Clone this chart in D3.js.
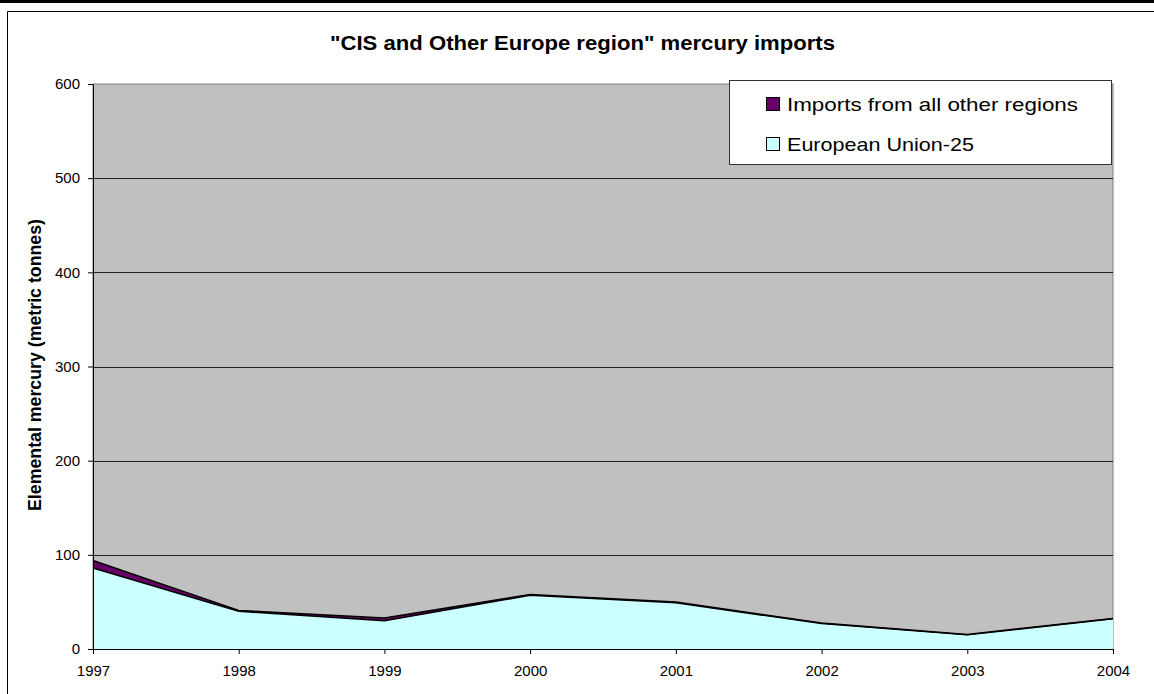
<!DOCTYPE html>
<html>
<head>
<meta charset="utf-8">
<script src="https://cdn.jsdelivr.net/npm/d3@7"></script>
<style>
  html, body { margin: 0; padding: 0; background: #fff; }
  svg { display: block; font-family: "Liberation Sans", Arial, sans-serif; }
</style>
</head>
<body>
<svg id="chart" width="1154" height="694"></svg>
<script>
const years = [1997, 1998, 1999, 2000, 2001, 2002, 2003, 2004];
const euValues = [86, 40, 30, 57, 49, 27, 15, 32];
const otherValues = [8, 1, 3, 1, 1, 0.5, 0.5, 0.5];
const yTicks = [0, 100, 200, 300, 400, 500, 600];
const seriesNames = ["Imports from all other regions", "European Union-25"];
const seriesColors = ["#660066", "#CCFFFF"];

const svg = d3.select("#chart");
const W = 1154, H = 694;
const m = { left: 93, right: 1113, top: 84, bottom: 649 };
const FONT = "Liberation Sans, Arial, sans-serif";

// page decorations
svg.append("rect").attr("x", 0).attr("y", 0).attr("width", W).attr("height", 3).attr("fill", "#000");
svg.append("path").attr("d", `M7.5,${H} V11.5 H${W}`).attr("fill", "none").attr("stroke", "#000").attr("stroke-width", 1);

const x = d3.scaleLinear().domain([years[0], years[years.length - 1]]).range([m.left, m.right]);
const y = d3.scaleLinear().domain([0, 600]).range([m.bottom, m.top]);

// plot background
svg.append("rect").attr("x", m.left).attr("y", m.top)
  .attr("width", m.right - m.left).attr("height", m.bottom - m.top)
  .attr("fill", "#C0C0C0").attr("stroke", "#808080").attr("stroke-width", 1);

// gridlines
svg.append("g").selectAll("line").data(yTicks.filter(d => d > 0 && d < 600)).join("line")
  .attr("x1", m.left).attr("x2", m.right)
  .attr("y1", d => Math.round(y(d)) + 0.5).attr("y2", d => Math.round(y(d)) + 0.5)
  .attr("stroke", "#222").attr("stroke-width", 1);

// stacked areas
const data = years.map((yr, i) => ({ year: yr, eu: euValues[i], other: otherValues[i] }));
const stack = d3.stack().keys(["eu", "other"]);
const layers = stack(data);
const area = d3.area().x(d => x(d.data.year)).y0(d => y(d[0])).y1(d => y(d[1]));
const topLine = d3.line().x(d => x(d.data.year)).y(d => y(d[1]));
const fills = { eu: seriesColors[1], other: seriesColors[0] };

layers.forEach(l => {
  svg.append("path").datum(l).attr("d", area).attr("fill", fills[l.key]).attr("stroke", "none");
});
layers.forEach(l => {
  svg.append("path").datum(l).attr("d", topLine).attr("fill", "none")
    .attr("stroke", "#000").attr("stroke-width", 1.5).attr("stroke-linejoin", "round");
});

// axes
const yAxis = d3.axisLeft(y).tickValues(yTicks).tickSize(5).tickSizeOuter(0).tickPadding(8);
const gy = svg.append("g").attr("transform", `translate(${m.left},0)`).call(yAxis);
gy.attr("font-size", null).attr("font-family", null);
gy.select(".domain").attr("stroke", "#000");
gy.selectAll("line").attr("stroke", "#000");
gy.selectAll("text").style("font-size", "15px").attr("fill", "#000").style("font-family", FONT);

const xAxis = d3.axisBottom(x).tickValues(years).tickFormat(d3.format("d")).tickSize(5).tickSizeOuter(0).tickPadding(11);
const gx = svg.append("g").attr("transform", `translate(0,${m.bottom})`).call(xAxis);
gx.attr("font-size", null).attr("font-family", null);
gx.select(".domain").attr("stroke", "#000");
gx.selectAll("line").attr("stroke", "#000");
gx.selectAll("text").style("font-size", "15px").attr("fill", "#000").style("font-family", FONT);

// title
svg.append("text").attr("x", 330).attr("y", 50)
  .style("font-size", "19.5px").attr("font-weight", "bold")
  .attr("textLength", 505).attr("lengthAdjust", "spacingAndGlyphs")
  .text('"CIS and Other Europe region" mercury imports');

// y label
svg.append("text").attr("transform", `translate(41,511) rotate(-90)`)
  .style("font-size", "18px").attr("font-weight", "bold")
  .attr("textLength", 292).attr("lengthAdjust", "spacingAndGlyphs")
  .text("Elemental mercury (metric tonnes)");

// legend
const legendLengths = [291, 187];
const lg = svg.append("g");
lg.append("rect").attr("x", 729.5).attr("y", 80.5).attr("width", 382).attr("height", 84)
  .attr("fill", "#fff").attr("stroke", "#333").attr("stroke-width", 1);
seriesNames.forEach((name, i) => {
  const cy = 104 + i * 40;
  lg.append("rect").attr("x", 766.5).attr("y", cy - 6.5).attr("width", 13).attr("height", 13)
    .attr("fill", seriesColors[i]).attr("stroke", "#000").attr("stroke-width", 1);
  lg.append("text").attr("x", 787).attr("y", cy + 6.5)
    .style("font-size", "18.5px")
    .attr("textLength", legendLengths[i]).attr("lengthAdjust", "spacingAndGlyphs")
    .text(name);
});
</script>
</body>
</html>
